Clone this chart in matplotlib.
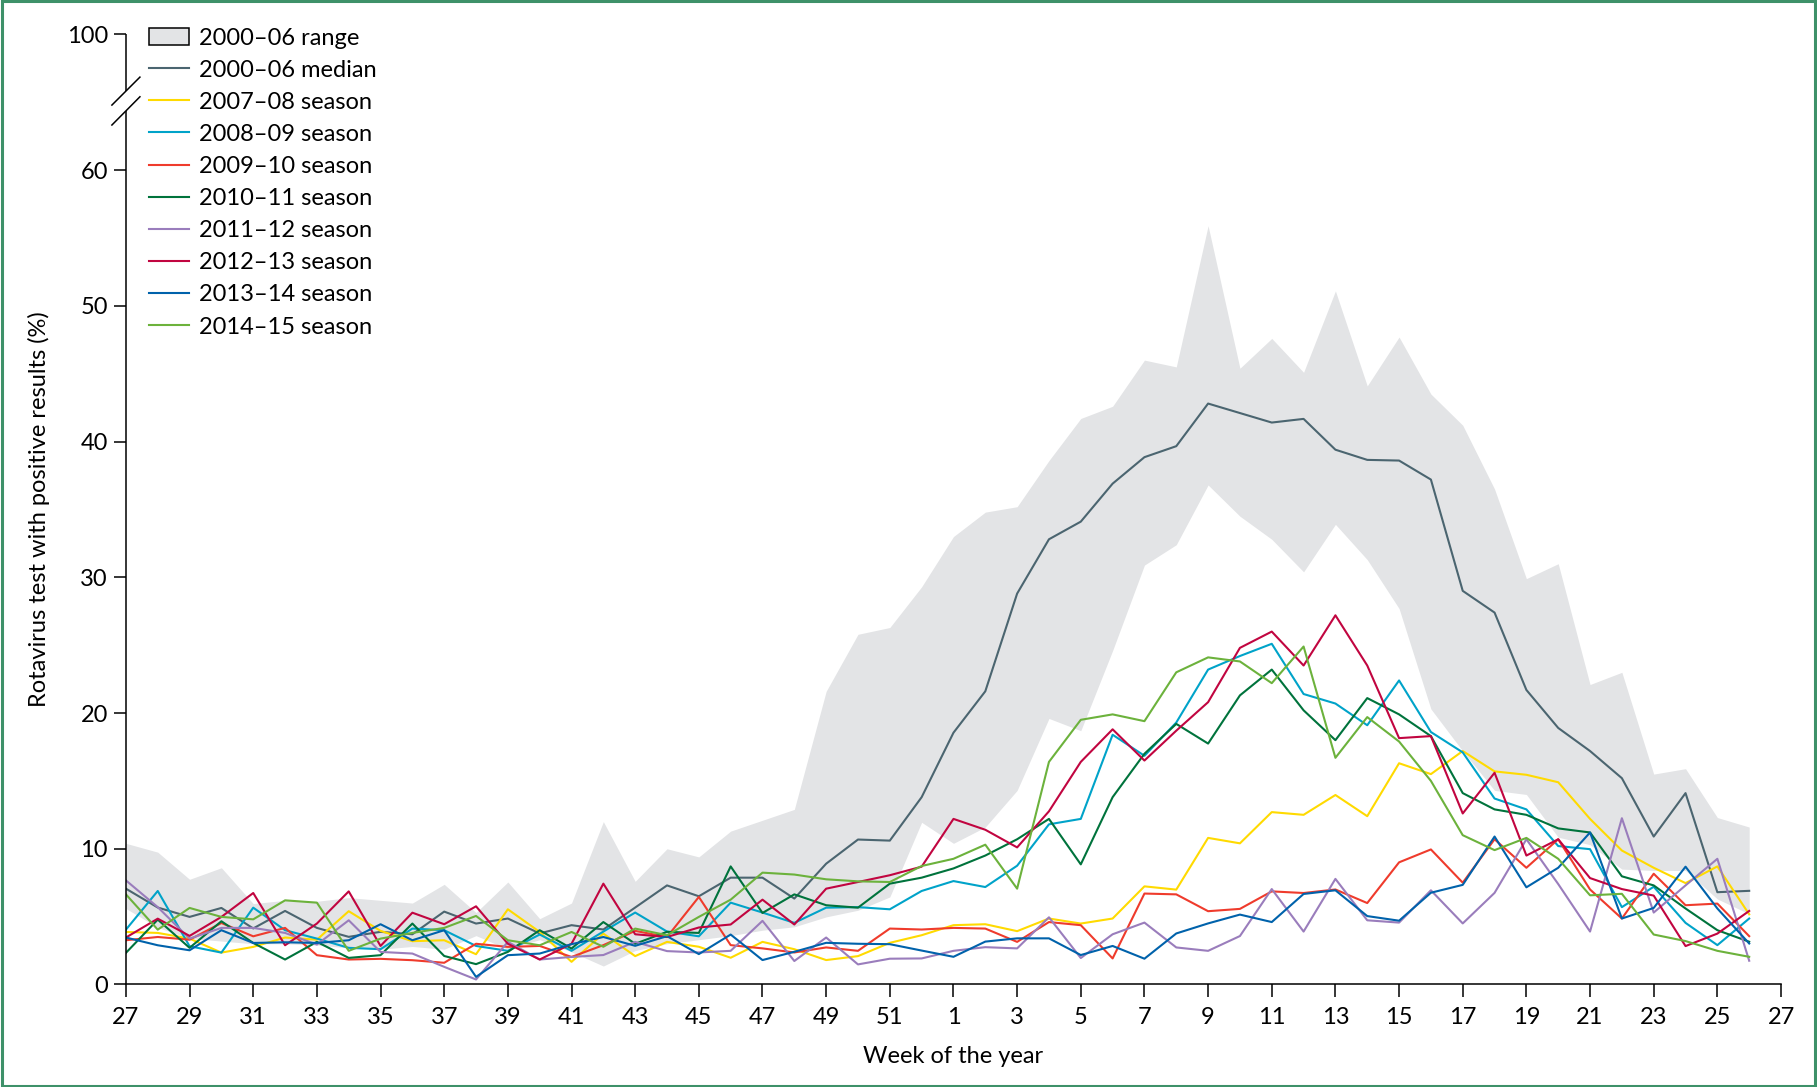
import numpy as np
import matplotlib
matplotlib.use("Agg")
import matplotlib.pyplot as plt
from matplotlib.patches import Patch, Rectangle
from matplotlib.lines import Line2D

plt.rcParams['font.family'] = ['Lato', 'DejaVu Sans']

# week of the year, season runs week 27 -> week 26
weeks = list(range(27, 53)) + list(range(1, 27))

range_hi = [10.4, 9.75, 7.75, 8.6, 5.96, 6.2, 6.13, 6.4, 6.2, 6.0, 7.38, 5.3, 7.55, 4.85, 6.0,
            12.0, 7.6, 10.0, 9.4, 11.3, 12.1, 12.9, 21.6, 25.8, 26.3, 29.3,
            33.0, 34.8, 35.2, 38.6, 41.7, 42.6, 46.0, 45.5, 55.9, 45.4, 47.6, 45.1, 51.1, 44.1,
            47.7, 43.5, 41.2, 36.5, 29.9, 31.0, 22.1, 23.0, 15.5, 15.9, 12.3, 11.6]
range_lo = [5.6, 4.2, 3.4, 3.2, 3.0, 3.0, 2.9, 2.7, 2.6, 2.8, 2.6, 3.6, 2.6, 3.3, 2.4,
            1.36, 2.5, 3.0, 3.3, 3.6, 4.0, 4.25, 4.98, 5.47, 6.45, 11.95,
            10.4, 11.6, 14.3, 19.6, 18.7, 24.6, 30.9, 32.4, 36.8, 34.5, 32.8, 30.4, 33.9, 31.3,
            27.7, 20.3, 17.2, 14.3, 14.0, 10.85, 10.3, 8.5, 8.4, 8.4, 6.3, 5.2]
median = [7.06, 5.67, 4.98, 5.64, 4.13, 5.42, 4.17, 3.51, 3.88, 3.7, 5.37, 4.49, 4.86, 3.76, 4.37,
          4.05, 5.67, 7.3, 6.5, 7.87, 7.87, 6.33, 8.9, 10.68, 10.6, 13.8,
          18.55, 21.6, 28.8, 32.8, 34.1, 36.9, 38.85, 39.66, 42.8, 42.1, 41.4, 41.67, 39.4, 38.65,
          38.6, 37.2, 29.0, 27.4, 21.7, 18.9, 17.2, 15.2, 10.9, 14.1, 6.8, 6.9]

s0708 = [3.87, 3.8, 3.38, 2.35, 2.77, 3.46, 3.3, 5.4, 3.95, 3.19, 3.26, 2.23, 5.54, 3.87, 1.67,
         3.75, 2.09, 3.14, 2.78, 1.97, 3.14, 2.6, 1.8, 2.09, 3.07, 3.63,
         4.37, 4.44, 3.93, 4.86, 4.49, 4.86, 7.23, 6.99, 10.8, 10.4, 12.7, 12.5, 13.96, 12.4,
         16.3, 15.5, 17.2, 15.7, 15.45, 14.9, 12.2, 9.87, 8.6, 7.47, 8.7, 5.17]
s0809 = [4.04, 6.89, 2.82, 2.35, 5.66, 4.0, 3.38, 2.7, 2.6, 4.12, 4.0, 2.84, 2.48, 3.68, 2.48,
         3.9, 5.3, 3.9, 3.55, 6.03, 5.3, 4.54, 5.66, 5.7, 5.54, 6.89,
         7.62, 7.18, 8.75, 11.8, 12.2, 18.4, 16.85, 19.3, 23.2, 24.2, 25.1, 21.4, 20.7, 19.1,
         22.4, 18.6, 17.1, 13.7, 12.9, 10.2, 9.97, 5.7, 7.2, 4.54, 2.9, 4.86]
s0910 = [3.26, 3.5, 3.3, 4.53, 3.55, 4.17, 2.16, 1.84, 1.89, 1.79, 1.6, 3.0, 2.77, 2.84, 2.03,
         2.9, 3.95, 3.5, 6.45, 2.9, 2.66, 2.36, 2.73, 2.48, 4.12, 4.05,
         4.17, 4.12, 3.14, 4.6, 4.37, 1.92, 6.7, 6.64, 5.4, 5.57, 6.86, 6.74, 7.0, 6.0,
         9.0, 9.95, 7.5, 10.7, 8.6, 10.7, 7.0, 4.86, 8.16, 5.84, 5.96, 3.56]
s1011 = [2.33, 4.78, 2.7, 4.66, 3.06, 1.84, 3.14, 1.96, 2.16, 4.49, 2.1, 1.5, 2.4, 4.0, 2.65,
         4.6, 3.0, 3.88, 3.8, 8.7, 5.27, 6.64, 5.84, 5.66, 7.43, 7.87,
         8.55, 9.5, 10.7, 12.2, 8.85, 13.8, 17.0, 19.2, 17.75, 21.3, 23.2, 20.2, 18.0, 21.1,
         19.9, 18.3, 14.1, 12.9, 12.5, 11.5, 11.2, 7.97, 7.3, 5.6, 4.0, 3.15]
s1112 = [7.67, 5.7, 3.38, 4.17, 4.17, 3.8, 2.94, 4.73, 2.4, 2.28, 1.3, 0.37, 3.14, 1.84, 2.03,
         2.17, 3.14, 2.46, 2.36, 2.48, 4.69, 1.73, 3.46, 1.48, 1.9, 1.92,
         2.48, 2.75, 2.66, 4.95, 1.95, 3.7, 4.56, 2.73, 2.48, 3.57, 7.03, 3.9, 7.78, 4.73,
         4.56, 6.94, 4.5, 6.75, 10.7, 7.4, 3.9, 12.25, 5.3, 7.3, 9.26, 1.75]
s1213 = [3.46, 4.85, 3.58, 4.98, 6.74, 2.89, 4.49, 6.86, 2.84, 5.29, 4.44, 5.76, 3.0, 1.84, 3.0,
         7.43, 3.7, 3.5, 4.2, 4.42, 6.25, 4.42, 7.06, 7.55, 8.05, 8.68,
         12.2, 11.4, 10.1, 12.76, 16.4, 18.8, 16.5, 18.7, 20.8, 24.8, 26.0, 23.5, 27.2, 23.5,
         18.15, 18.3, 12.6, 15.6, 9.5, 10.7, 7.84, 7.03, 6.55, 2.83, 3.75, 5.42]
s1314 = [3.46, 2.89, 2.52, 4.0, 3.06, 3.11, 3.06, 3.26, 4.44, 3.26, 4.0, 0.56, 2.16, 2.28, 2.97,
         3.5, 2.85, 3.56, 2.24, 3.68, 1.8, 2.41, 3.07, 3.0, 2.97, 2.5,
         2.04, 3.16, 3.4, 3.4, 2.17, 2.84, 1.9, 3.76, 4.5, 5.15, 4.6, 6.67, 6.94, 5.04,
         4.7, 6.76, 7.34, 10.9, 7.16, 8.6, 11.2, 4.86, 5.64, 8.68, 5.6, 3.02]
s1415 = [6.64, 4.04, 5.64, 4.98, 4.8, 6.2, 6.03, 2.48, 3.38, 3.8, 4.17, 5.05, 3.26, 2.89, 3.87,
         2.78, 4.12, 3.63, 4.98, 6.25, 8.24, 8.1, 7.75, 7.6, 7.55, 8.73,
         9.26, 10.3, 7.06, 16.4, 19.5, 19.9, 19.4, 23.0, 24.1, 23.8, 22.2, 24.9, 16.7, 19.7,
         17.9, 15.0, 11.0, 9.9, 10.8, 9.26, 6.57, 6.68, 3.68, 3.2, 2.48, 2.04]

seasons = ['2007–08 season', '2008–09 season', '2009–10 season', '2010–11 season',
           '2011–12 season', '2012–13 season', '2013–14 season', '2014–15 season']
season_vals = [s0708, s0809, s0910, s1011, s1112, s1213, s1314, s1415]
season_cols = ['#FFDA00', '#00A3C9', '#EF3B2C', '#00733C', '#9A7DBC', '#C10540', '#0062AB', '#6CB23C']

ytick_vals = [0, 10, 20, 30, 40, 50, 60, 70]
ytick_labels = ['0', '10', '20', '30', '40', '50', '60', '100']

band_col = '#E3E4E6'
median_col = '#4B6570'

fig = plt.figure(figsize=(18.17, 10.87), dpi=100)
ax = fig.add_axes([0.0693, 0.0943, 0.9109, 0.8741])

x = np.arange(len(weeks))
ax.fill_between(x, range_lo, range_hi, color=band_col, lw=0)
ax.plot(x, median, color=median_col, lw=1.5)
for vals, col in zip(season_vals, season_cols):
    ax.plot(x, vals, color=col, lw=1.5)

ax.set_xlim(0, 52)
ax.set_ylim(0, 70)

xt = np.arange(0, 53, 2)
ax.set_xticks(xt)
ax.set_xticklabels([str((27 + i - 1) % 52 + 1) for i in xt])
ax.set_yticks(ytick_vals)
ax.set_yticklabels(ytick_labels)
ax.tick_params(axis='both', length=9, width=1.1, labelsize=17, direction='out')
ax.tick_params(axis='x', pad=7)
ax.tick_params(axis='y', pad=4)

for side in ['top', 'right', 'left']:
    ax.spines[side].set_visible(False)
ax.spines['bottom'].set_linewidth(1.1)

# broken y axis: 60 -> 100
ax.plot([0, 0], [0, 64.35], color='black', lw=1.1, clip_on=False, solid_capstyle='butt')
ax.plot([0, 0], [65.8, 70], color='black', lw=1.1, clip_on=False, solid_capstyle='butt')
ax.plot([-0.44, 0.44], [64.79, 66.85], color='black', lw=1.1, clip_on=False)
ax.plot([-0.44, 0.44], [63.32, 65.40], color='black', lw=1.1, clip_on=False)

ax.set_xlabel('Week of the year', fontsize=17, labelpad=13)
ax.set_ylabel('Rotavirus test with positive results (%)', fontsize=17, labelpad=12)

handles = [Patch(facecolor=band_col, edgecolor='black', lw=1.1),
           Line2D([], [], color=median_col, lw=1.5)]
handles += [Line2D([], [], color=c, lw=1.5) for c in season_cols]
labels = ['2000–06 range', '2000–06 median'] + seasons
ax.legend(handles, labels, loc='upper left', bbox_to_anchor=(0.008, 1.017), frameon=False,
          fontsize=17, handlelength=1.7, handleheight=0.75, handletextpad=0.45,
          labelspacing=0.47, borderaxespad=0)

fig.patches.append(Rectangle((0.001, 0.001), 0.998, 0.998, transform=fig.transFigure,
                             fill=False, edgecolor='#3E9169', lw=2.2))

fig.savefig('out.png', dpi=100)
